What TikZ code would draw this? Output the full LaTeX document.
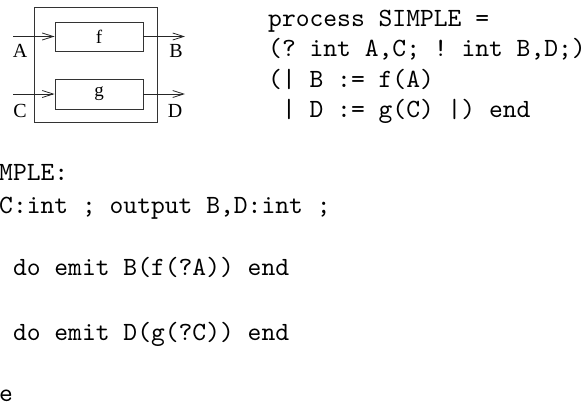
\documentclass[tikz,border=0pt]{standalone}
\usepackage{fontspec}
\newfontfamily\labfont{Liberation Serif}
\newfontfamily\codefont{lmmono10-regular.otf}
\usetikzlibrary{arrows.meta}
\begin{document}
\frenchspacing
\begin{tikzpicture}[x=1pt,y=-1pt,
  boxline/.style={draw=black!80,line width=0.9pt},
  fnbox/.style={boxline,minimum width=88pt,inner sep=0pt,font=\labfont\fontsize{19}{19}\selectfont},
  flow/.style={draw=black!85,line width=0.8pt,-{Straight Barb[length=11pt,width=7pt,line width=0.8pt]}},
  lab/.style={anchor=base,inner sep=0pt,font=\labfont\fontsize{20}{20}\selectfont},
  code/.style={anchor=base west,inner sep=0pt,font=\codefont\frenchspacing\fontsize{26.3}{31}\selectfont}]
\useasboundingbox (0,0) rectangle (587,408);
% diagram
\node[boxline,minimum width=123pt,minimum height=115.7pt,inner sep=0pt] (outer) at (95.5,64.85) {};
\node[fnbox,minimum height=29pt] (f) at (99,36.5) {f};
\node[fnbox,minimum height=30pt] (g) at (99,94) {g};
\coordinate (ina) at (13,36.5);
\coordinate (inc) at (13,94);
\coordinate (outb) at (185,36.5);
\coordinate (outd) at (185,94);
\draw[flow] (ina) -- (f.west);
\draw[flow] (inc) -- (g.west);
\draw[flow] (f.east) -- (outb);
\draw[flow] (g.east) -- (outd);
\node[lab] (la) at (20,57) {A};
\node[lab] (lb) at (176,57) {B};
\node[lab] (lc) at (20,117) {C};
\node[lab] (ld) at (175,117) {D};
% code, top right
\node[code] (t1) at (268,26) {process SIMPLE =};
\node[code] (t2) at (268,56) {(? int A,C; ! int B,D;)};
\node[code] (t3) at (268,87) {(| B := f(A)};
\node[code] (t4) at (281.8,117) {| D := g(C) |) end};
% code, bottom
\node[code] (b1) at (-1,180) {MPLE:};
\node[code] (b2) at (-1,213) {C:int ; output B,D:int ;};
\node[code] (b3) at (12.8,275) {do emit B(f(?A)) end};
\node[code] (b4) at (12.8,340) {do emit D(g(?C)) end};
\node[code] (b5) at (-1,401) {e};
\end{tikzpicture}
\end{document}
